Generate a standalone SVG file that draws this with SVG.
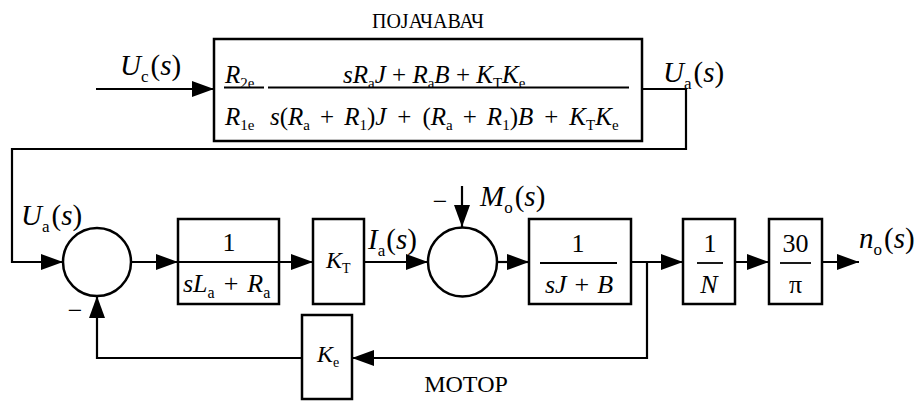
<svg xmlns="http://www.w3.org/2000/svg" width="917" height="401" viewBox="0 0 917 401">
<style>
text{font-family:"Liberation Serif","Tinos","Times New Roman","DejaVu Serif",serif;fill:#000}
.i{font-style:italic}
.box{fill:#fff;stroke:#000;stroke-width:2.5}
.ln{fill:none;stroke:#000;stroke-width:2.2}
.fl{stroke:#000;stroke-width:1.8}
.c{fill:#fff;stroke:#000;stroke-width:2.5}
</style>
<defs>
<marker id="ah" markerUnits="userSpaceOnUse" markerWidth="22" markerHeight="16" refX="22" refY="8" orient="auto">
<path d="M0,0 L22,8 L0,16 z" fill="#000"/>
</marker>
</defs>

<g id="connectors">
<path class="ln" d="M96,89 H214" marker-end="url(#ah)"/>
<path class="ln" d="M642,89 H686 V149 H12 V262 H63" marker-end="url(#ah)"/>
<path class="ln" d="M131,262 H178" marker-end="url(#ah)"/>
<path class="ln" d="M279,262 H313" marker-end="url(#ah)"/>
<path class="ln" d="M364,262 H428" marker-end="url(#ah)"/>
<path class="ln" d="M462,186 V227" marker-end="url(#ah)"/>
<path class="ln" d="M497,262 H529" marker-end="url(#ah)"/>
<path class="ln" d="M631,262 H683" marker-end="url(#ah)"/>
<path class="ln" d="M735,262 H769" marker-end="url(#ah)"/>
<path class="ln" d="M822,262 H859" marker-end="url(#ah)"/>
<path class="ln" d="M647,262 V358 H352" marker-end="url(#ah)"/>
<path class="ln" d="M302,358 H97 V296" marker-end="url(#ah)"/>
</g>

<g id="amplifier">
<rect class="box" x="214" y="39" width="428" height="102"/>
<text x="428" y="28" font-size="20" text-anchor="middle">ПОЈАЧАВАЧ</text>
<line class="fl" x1="224" y1="87.5" x2="264" y2="87.5"/>
<line class="fl" x1="268" y1="87.5" x2="629" y2="87.5"/>
<text x="225" y="83" font-size="25"><tspan class="i">R</tspan><tspan font-size="15" dy="5">2e</tspan></text>
<text x="225" y="125" font-size="25"><tspan class="i">R</tspan><tspan font-size="15" dy="5">1e</tspan></text>
<text x="343" y="83" font-size="25"><tspan class="i">sR</tspan><tspan font-size="15" dy="5">a</tspan><tspan class="i" dy="-5">J</tspan> + <tspan class="i">R</tspan><tspan font-size="15" dy="5">a</tspan><tspan class="i" dy="-5">B</tspan> + <tspan class="i">K</tspan><tspan font-size="15" dy="5">T</tspan><tspan class="i" dy="-5">K</tspan><tspan font-size="15" dy="5">e</tspan></text>
<text x="270" y="125" font-size="25"><tspan class="i">s</tspan>(<tspan class="i">R</tspan><tspan font-size="15" dy="5">a</tspan><tspan dy="-5" dx="10">+</tspan><tspan class="i" dx="10">R</tspan><tspan font-size="15" dy="5">1</tspan><tspan dy="-5">)</tspan><tspan class="i">J</tspan><tspan dx="11">+</tspan><tspan dx="11">(</tspan><tspan class="i">R</tspan><tspan font-size="15" dy="5">a</tspan><tspan dy="-5" dx="10">+</tspan><tspan class="i" dx="10">R</tspan><tspan font-size="15" dy="5">1</tspan><tspan dy="-5">)</tspan><tspan class="i">B</tspan><tspan dx="11">+</tspan><tspan class="i" dx="11">K</tspan><tspan font-size="15" dy="5">T</tspan><tspan class="i" dy="-5">K</tspan><tspan font-size="15" dy="5">e</tspan></text>
</g>

<g id="labels">
<text x="120" y="75" font-size="29"><tspan class="i">U</tspan><tspan font-size="17" dy="7">c</tspan><tspan dy="-7" dx="2">(</tspan><tspan class="i">s</tspan>)</text>
<text x="663" y="82" font-size="29"><tspan class="i">U</tspan><tspan font-size="17" dy="7">a</tspan><tspan dy="-7" dx="2">(</tspan><tspan class="i">s</tspan>)</text>
<text x="21" y="225" font-size="29"><tspan class="i">U</tspan><tspan font-size="17" dy="7">a</tspan><tspan dy="-7" dx="2">(</tspan><tspan class="i">s</tspan>)</text>
<text x="368" y="249" font-size="29"><tspan class="i">I</tspan><tspan font-size="17" dy="7">a</tspan><tspan dy="-7" dx="1">(</tspan><tspan class="i">s</tspan>)</text>
<text x="480" y="206" font-size="29"><tspan class="i">M</tspan><tspan font-size="17" dy="7">o</tspan><tspan dy="-7" dx="2">(</tspan><tspan class="i">s</tspan>)</text>
<text x="859" y="248" font-size="29"><tspan class="i">n</tspan><tspan font-size="17" dy="7">o</tspan><tspan dy="-7" dx="2">(</tspan><tspan class="i">s</tspan>)</text>
<text x="440" y="210" font-size="26" text-anchor="middle">−</text>
<text x="75" y="319" font-size="26" text-anchor="middle">−</text>
<text x="466" y="392" font-size="24" text-anchor="middle">МОТОР</text>
</g>

<g id="sum1"><circle class="c" cx="97" cy="262" r="34"/></g>
<g id="sum2"><circle class="c" cx="462.5" cy="262" r="34.5"/></g>

<g id="armature">
<rect class="box" x="178" y="219" width="101" height="85"/>
<line class="fl" x1="178" y1="262" x2="279" y2="262"/>
<text x="229" y="251" font-size="26" text-anchor="middle">1</text>
<text x="183" y="292" font-size="26"><tspan class="i">sL</tspan><tspan font-size="16" dy="6">a</tspan><tspan dy="-6" dx="9">+</tspan><tspan class="i" dx="9">R</tspan><tspan font-size="16" dy="6">a</tspan></text>
</g>

<g id="kt">
<rect class="box" x="313" y="219" width="51" height="85"/>
<text x="326" y="268" font-size="24"><tspan class="i">K</tspan><tspan font-size="14" dy="5">T</tspan></text>
</g>

<g id="mech">
<rect class="box" x="529" y="219" width="102" height="85"/>
<line class="fl" x1="540" y1="263" x2="617" y2="263"/>
<text x="578" y="252" font-size="26" text-anchor="middle">1</text>
<text x="579" y="293" font-size="26" text-anchor="middle"><tspan class="i">sJ</tspan><tspan dx="8">+</tspan><tspan class="i" dx="8">B</tspan></text>
</g>

<g id="gear">
<rect class="box" x="683" y="219" width="52" height="85"/>
<line class="fl" x1="697" y1="263" x2="723" y2="263"/>
<text x="710" y="252" font-size="26" text-anchor="middle">1</text>
<text x="709" y="293" font-size="26" text-anchor="middle" class="i">N</text>
</g>

<g id="conv">
<rect class="box" x="769" y="219" width="53" height="85"/>
<line class="fl" x1="780" y1="263" x2="811" y2="263"/>
<text x="795.5" y="252" font-size="26" text-anchor="middle">30</text>
<text x="795.5" y="293" font-size="26" text-anchor="middle">π</text>
</g>

<g id="ke">
<rect class="box" x="302" y="315" width="50" height="84"/>
<text x="317" y="362" font-size="24"><tspan class="i">K</tspan><tspan font-size="14" dy="5">e</tspan></text>
</g>
</svg>
